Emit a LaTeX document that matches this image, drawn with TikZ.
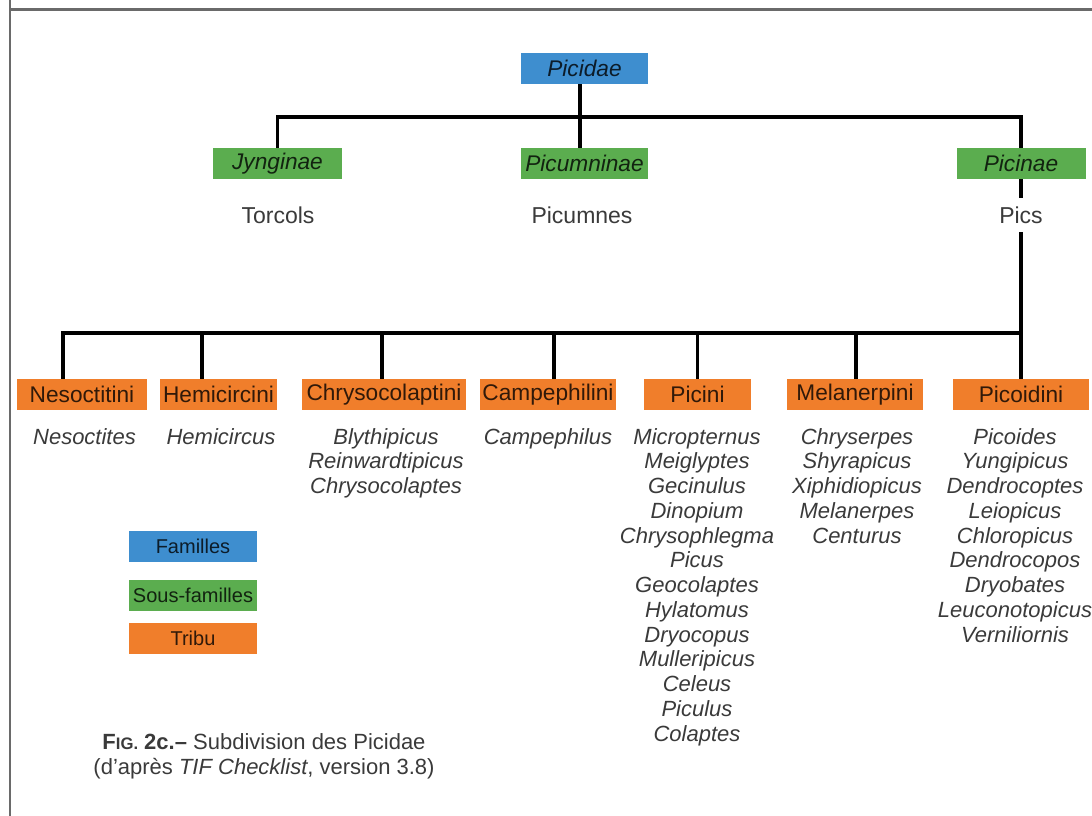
\documentclass[tikz,border=0pt]{standalone}
\usepackage{fontspec}
\setmainfont{Liberation Sans}
\usetikzlibrary{backgrounds}

\definecolor{famblue}{HTML}{3E8ECF}
\definecolor{subgreen}{HTML}{5BAD4F}
\definecolor{tribeorange}{HTML}{F07E2B}
\definecolor{framegray}{HTML}{6A6A6A}
\definecolor{listgray}{HTML}{3A3A3A}

\begin{document}
\begin{tikzpicture}[x=0.75pt,y=-0.75pt,
  box/.style={inner sep=0pt, minimum height=23.25pt, font=\fontsize{17}{20}\selectfont},
  family/.style={box, fill=famblue, text=famblue!20!black, font=\fontsize{17}{20}\selectfont\itshape},
  subfam/.style={box, fill=subgreen, text=subgreen!20!black, font=\fontsize{17}{20}\selectfont\itshape},
  tribe/.style={box, fill=tribeorange, text=tribeorange!20!black},
  common/.style={fill=white, inner xsep=1pt, inner ysep=6.5pt, text=listgray, font=\fontsize{17.25}{20}\selectfont},
  genera/.style={anchor=north, align=center, inner sep=0pt, text=listgray, font=\fontsize{16.5}{18.56}\selectfont\itshape},
  link/.style={line width=2.4pt, black},
  legendbox/.style={box, minimum width=96pt, font=\fontsize{15}{18}\selectfont},
  frameline/.style={line width=1.6pt, framegray},
]
\useasboundingbox (0,0) rectangle (1092,816);

% page frame
\draw[frameline] (10,0) -- (10,816);
\draw[frameline] (10,9.5) -- (1092,9.5);

% family and subfamilies
\node[family, minimum width=95.25pt] (picidae) at (584.5,68.5) {Picidae};
\node[subfam, minimum width=96.75pt] (jyn) at (277.5,163.5) {Jynginae};
\node[subfam, minimum width=95.25pt] (picumn) at (584.5,163.5) {Picumninae};
\node[subfam, minimum width=96.75pt] (picinae) at (1021,163.5) {Picinae};

\node[common] (torcols) at (278,215) {Torcols};
\node[common] (picumnes) at (582,215) {Picumnes};
\node[common] (pics) at (1021,215) {Pics};

% tribes
\node[tribe, minimum width=97.5pt]  (nes) at (82,394.5)   {Nesoctitini};
\node[tribe, minimum width=87.75pt] (hem) at (218.5,394.5) {Hemicircini};
\node[tribe, minimum width=123pt]   (chr) at (384,394.5)  {Chrysocolaptini};
\node[tribe, minimum width=102pt]   (cam) at (548,394.5)  {Campephilini};
\node[tribe, minimum width=80.25pt] (pii) at (697.5,394.5) {Picini};
\node[tribe, minimum width=102pt]   (mel) at (855,394.5)  {Melanerpini};
\node[tribe, minimum width=102pt]   (pco) at (1021,394.5) {Picoidini};

% genera
\node[genera] (gnes) at (84.5,428) {Nesoctites};
\node[genera] (ghem) at (221,428) {Hemicircus};
\node[genera] (gchr) at (386,428) {Blythipicus\\Reinwardtipicus\\Chrysocolaptes};
\node[genera] (gcam) at (548,428) {Campephilus};
\node[genera] (gpii) at (697,428) {Micropternus\\Meiglyptes\\Gecinulus\\Dinopium\\Chrysophlegma\\Picus\\Geocolaptes\\Hylatomus\\Dryocopus\\Mulleripicus\\Celeus\\Piculus\\Colaptes};
\node[genera] (gmel) at (857,428) {Chryserpes\\Shyrapicus\\Xiphidiopicus\\Melanerpes\\Centurus};
\node[genera] (gpco) at (1015,428) {Picoides\\Yungipicus\\Dendrocoptes\\Leiopicus\\Chloropicus\\Dendrocopos\\Dryobates\\Leuconotopicus\\Verniliornis};

% legend
\node[legendbox, fill=famblue, text=famblue!20!black] (lfam) at (193,546.5) {Familles};
\node[legendbox, fill=subgreen, text=subgreen!20!black] (lsub) at (193,595) {Sous-familles};
\node[legendbox, fill=tribeorange, text=tribeorange!20!black] (ltri) at (193,638.5) {Tribu};

% caption
\node[align=center, inner sep=0pt, text=listgray, font=\fontsize{16.5}{18}\selectfont] (cap) at (264,756)
  {{\bfseries F{\fontsize{12.5}{15}\selectfont IG.} 2c.–} Subdivision des Picidae\\[1pt]
   (d'après \textit{TIF Checklist}, version 3.8)};

% tree links, kept under the boxes
\coordinate (bar1) at (0,117);
\coordinate (bar2) at (0,333);
\coordinate (nesdrop) at ([xshift=-14.25pt]nes.north);
\coordinate (hemdrop) at ([xshift=-12.4pt]hem.north);
\coordinate (chrdrop) at ([xshift=-1.5pt]chr.north);
\coordinate (camdrop) at ([xshift=4.5pt]cam.north);
\coordinate (piidrop) at (pii.north);
\coordinate (meldrop) at ([xshift=0.75pt]mel.north);
\coordinate (pcodrop) at (pco.north);
\begin{scope}[on background layer]
  \draw[link] (jyn.north) |- (bar1 -| picinae.center) -- (bar2 -| picinae.center) -| (nesdrop);
  \draw[link] ([xshift=-3.4pt]picidae.south) -- ([xshift=-3.4pt]picumn.north);
  \foreach \d in {hemdrop,chrdrop,camdrop,piidrop,meldrop,pcodrop}
    \draw[link] (\d |- bar2) -- (\d);
\end{scope}
\end{tikzpicture}
\end{document}
